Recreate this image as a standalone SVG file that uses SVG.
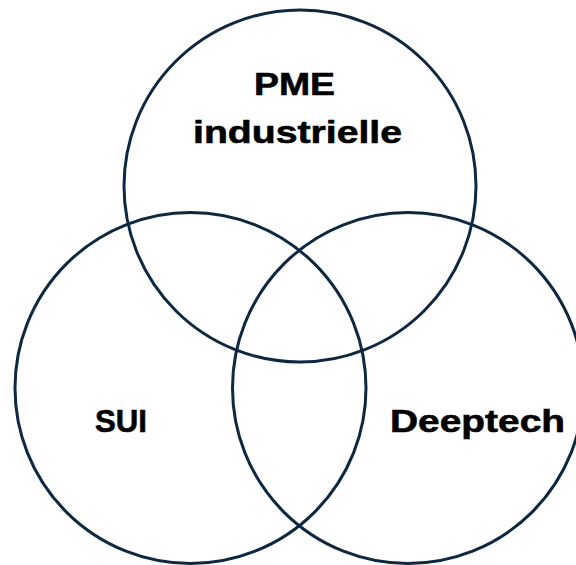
<svg xmlns="http://www.w3.org/2000/svg" width="576" height="565" viewBox="0 0 576 565">
<style>
.c{fill:none;stroke:#0e2841;stroke-width:3}
.t{font-family:"Liberation Sans",Arial,sans-serif;font-weight:bold;font-size:32px;fill:#000;stroke:#000;stroke-width:0.6}
</style>
<rect width="576" height="565" fill="#fff"/>
<g id="pme"><circle class="c" cx="300" cy="186" r="176"/>
<text class="t" x="254" y="95" textLength="81" lengthAdjust="spacingAndGlyphs">PME</text>
<text class="t" x="193" y="143" textLength="209" lengthAdjust="spacingAndGlyphs">industrielle</text></g>
<g id="sui"><circle class="c" cx="190.5" cy="388" r="175.5"/>
<text class="t" x="95" y="432" textLength="52" lengthAdjust="spacingAndGlyphs">SUI</text></g>
<g id="deeptech"><circle class="c" cx="408" cy="388" r="175.5"/>
<text class="t" x="390" y="432" textLength="175" lengthAdjust="spacingAndGlyphs">Deeptech</text></g>
<g id="connectors"></g>
</svg>
